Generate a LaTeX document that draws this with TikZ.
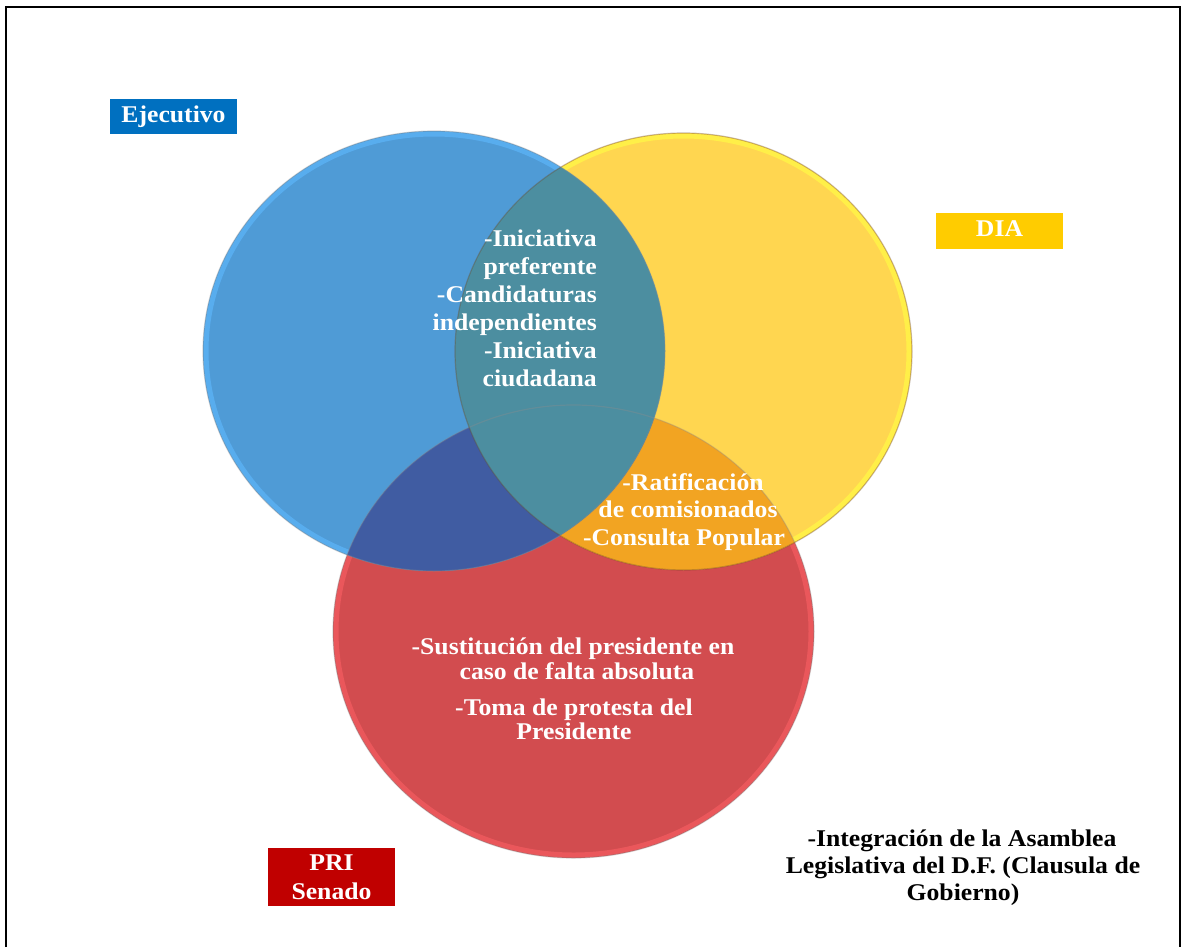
\documentclass[tikz,border=0pt]{standalone}
\usepackage{fontspec}
\setmainfont{Liberation Serif}[FakeStretch=1.07]
\begin{document}
\begin{tikzpicture}[x=1pt,y=-1pt,
  wt/.style={font=\bfseries\fontsize{24}{28}\selectfont, text=white, inner sep=0pt},
  bt/.style={font=\bfseries\fontsize{24}{28}\selectfont, text=black, inner sep=0pt}]
\definecolor{cblue}{RGB}{79,155,214}
\definecolor{cyellow}{RGB}{255,214,80}
\definecolor{cred}{RGB}{210,76,79}
\definecolor{corange}{RGB}{242,164,34}
\definecolor{cdblue}{RGB}{64,92,162}
\definecolor{cteal}{RGB}{76,142,160}
\definecolor{rimblue}{RGB}{95,185,255}
\definecolor{rimyellow}{RGB}{255,250,70}
\definecolor{rimred}{RGB}{250,95,100}
\definecolor{ejblue}{RGB}{0,112,192}
\definecolor{diayel}{RGB}{255,204,0}
\definecolor{prired}{RGB}{192,0,0}
\useasboundingbox (0,0) rectangle (1182,947);
\fill[white] (0,0) rectangle (1182,947);
% frame
\draw[line width=2pt] (6,947) -- (6,7) -- (1180,7) -- (1180,947);
% base circles
\fill[cred] (573.5,631.5) ellipse [x radius=240.5, y radius=226.5];
\fill[cyellow] (683.5,351.5) ellipse [x radius=228.5, y radius=218.5];
\fill[cblue] (434,351) ellipse [x radius=231, y radius=220];
% rims
\draw[rimred, line width=5pt, opacity=0.6] (573.5,631.5) ellipse [x radius=237.5, y radius=223.5];
\draw[rimyellow, line width=5pt, opacity=0.7] (683.5,351.5) ellipse [x radius=225.5, y radius=215.5];
\draw[rimblue, line width=5pt, opacity=0.6] (434,351) ellipse [x radius=228, y radius=217];
% overlaps
\begin{scope}
  \clip (573.5,631.5) ellipse [x radius=240.5, y radius=226.5];
  \fill[corange] (683.5,351.5) ellipse [x radius=228.5, y radius=218.5];
\end{scope}
\begin{scope}
  \clip (573.5,631.5) ellipse [x radius=240.5, y radius=226.5];
  \fill[cdblue] (434,351) ellipse [x radius=231, y radius=220];
\end{scope}
\begin{scope}
  \clip (434,351) ellipse [x radius=231, y radius=220];
  \fill[cteal] (683.5,351.5) ellipse [x radius=228.5, y radius=218.5];
\end{scope}
% thin outlines
\draw[black!45, line width=1.2pt, opacity=0.35] (573.5,631.5) ellipse [x radius=240.5, y radius=226.5];
\draw[black!45!brown, line width=1.2pt, opacity=0.35] (683.5,351.5) ellipse [x radius=228.5, y radius=218.5];
\draw[black!45, line width=1.2pt, opacity=0.35] (434,351) ellipse [x radius=231, y radius=220];
% tag boxes
\fill[ejblue] (110,99) rectangle (237,134);
\node[wt, anchor=base] (ej) at (173.5,122) {Ejecutivo};
\fill[diayel] (936,213) rectangle (1063,249);
\node[wt, anchor=base] (dia) at (999.5,236) {DIA};
\fill[prired] (268,848) rectangle (395,906);
\node[wt, anchor=base] (pri) at (331.5,870) {PRI};
\node[wt, anchor=base] (sen) at (331.5,899) {Senado};
% top intersection text
\node[wt, anchor=base east] (t1) at (597,246) {-Iniciativa};
\node[wt, anchor=base east] (t2) at (597,274) {preferente};
\node[wt, anchor=base east] (t3) at (597,302) {-Candidaturas};
\node[wt, anchor=base east] (t4) at (597,330) {independientes};
\node[wt, anchor=base east] (t5) at (597,358) {-Iniciativa};
\node[wt, anchor=base east] (t6) at (597,386) {ciudadana};
% yellow-red text
\node[wt, anchor=base] (r1) at (693,490) {-Ratificación};
\node[wt, anchor=base] (r2) at (688,517) {de comisionados};
\node[wt, anchor=base] (r3) at (684,545) {-Consulta Popular};
% red text
\node[wt, anchor=base] (s1) at (573,654) {-Sustitución del presidente en};
\node[wt, anchor=base] (s2) at (577,679) {caso de falta absoluta};
\node[wt, anchor=base] (s3) at (574,715) {-Toma de protesta del};
\node[wt, anchor=base] (s4) at (574,739) {Presidente};
% outside text
\node[bt, anchor=base] (o1) at (962,846) {-Integración de la Asamblea};
\node[bt, anchor=base] (o2) at (963,873) {Legislativa del D.F. (Clausula de};
\node[bt, anchor=base] (o3) at (963,900) {Gobierno)};
\end{tikzpicture}
\end{document}
